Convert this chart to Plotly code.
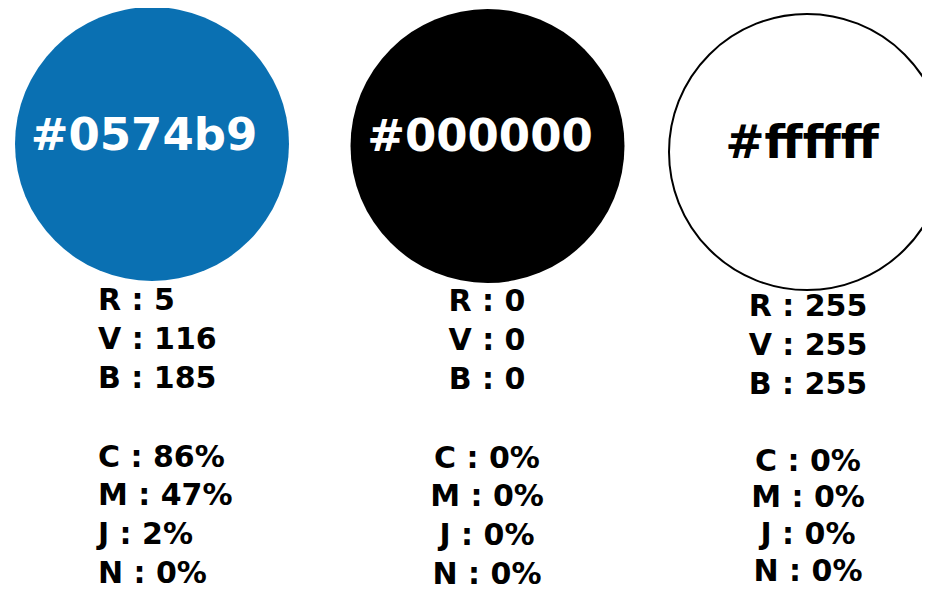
import plotly.graph_objects as go

# ---- data ----
hex_codes = ["#0574b9", "#000000", "#ffffff"]
fill_colors = ["#0a70b2", "#000000", "#ffffff"]
label_colors = ["#ffffff", "#ffffff", "#000000"]
R = [5, 0, 255]
V = [116, 0, 255]
B = [185, 0, 255]
C = [86, 0, 0]
M = [47, 0, 0]
J = [2, 0, 0]
N = [0, 0, 0]

# ---- layout constants (window pixel space) ----
W, H = 930, 591
PAGE_MARGIN = 8  # default body margin of the html page
circle_x = [152, 487.5, 807]
circle_y = [144, 146, 152]
circle_d = [274, 274, 276]
hex_x = [144, 480, 802]
hex_y = [139, 140, 146]
hex_size = [45, 45, 47]
col_x = [98, 487, 808]
col_anchor = ["middle right", "middle center", "middle center"]
col_y0 = [302, 303, 308]
col_font = [30, 30, 30]
rgb_gap = 39
cmyk_start = [459, 460, 463]
cmyk_gap = [38.7, 38.7, 36.7]

FONT = "DejaVu Sans"

fig = go.Figure()

# circles
for i in range(3):
    fig.add_trace(go.Scatter(
        x=[circle_x[i]], y=[circle_y[i]], mode="markers",
        marker=dict(size=circle_d[i], color=fill_colors[i],
                    line=dict(color="#000000" if i == 2 else fill_colors[i],
                              width=2 if i == 2 else 0)),
        hoverinfo="skip", showlegend=False))

# hex labels
for i in range(3):
    fig.add_trace(go.Scatter(
        x=[hex_x[i]], y=[hex_y[i]], mode="text", text=[f"<b>{hex_codes[i]}</b>"],
        textposition="middle center",
        textfont=dict(family=FONT, size=hex_size[i], color=label_colors[i]),
        hoverinfo="skip", showlegend=False))

# value lines
for i in range(3):
    rgb_lines = [f"R : {R[i]}", f"V : {V[i]}", f"B : {B[i]}"]
    cmyk_lines = [f"C : {C[i]}%", f"M : {M[i]}%", f"J : {J[i]}%", f"N : {N[i]}%"]
    lines = rgb_lines + cmyk_lines
    ys = [col_y0[i] + k * rgb_gap for k in range(3)] + \
         [cmyk_start[i] + k * cmyk_gap[i] for k in range(4)]
    fig.add_trace(go.Scatter(
        x=[col_x[i]] * len(lines), y=ys, mode="text",
        text=[f"<b>{t}</b>" for t in lines],
        textposition=col_anchor[i],
        textfont=dict(family=FONT, size=col_font[i], color="#000000"),
        hoverinfo="skip", showlegend=False))

fig.update_layout(
    width=W - PAGE_MARGIN, height=H - PAGE_MARGIN,
    margin=dict(l=0, r=0, t=0, b=0),
    paper_bgcolor="#ffffff", plot_bgcolor="#ffffff",
    xaxis=dict(range=[PAGE_MARGIN, W], visible=False, fixedrange=True),
    yaxis=dict(range=[H, PAGE_MARGIN], visible=False, fixedrange=True),
    showlegend=False,
)

fig.write_html("out.html", config={"displayModeBar": False})
